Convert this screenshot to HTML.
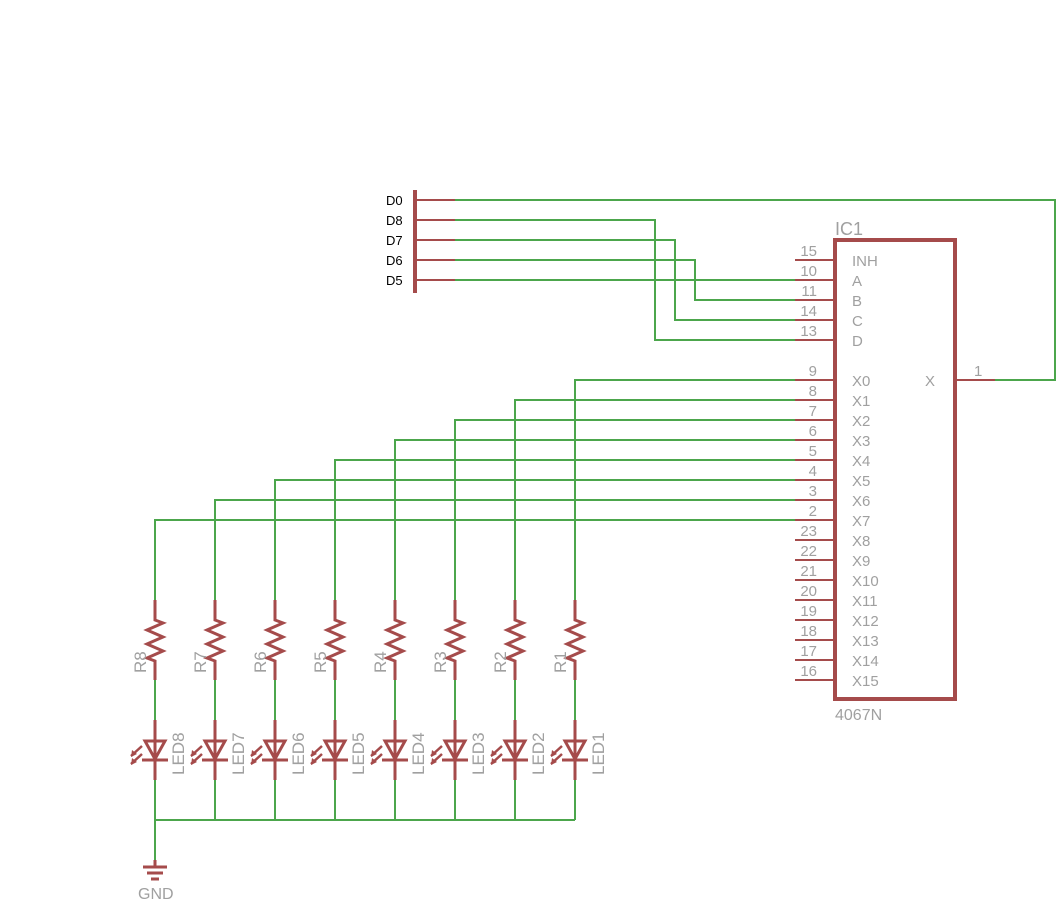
<!DOCTYPE html>
<html><head><style>body{margin:0;background:#fff}svg{display:block}</style></head><body>
<svg width="1057" height="906" xmlns="http://www.w3.org/2000/svg" xmlns:xlink="http://www.w3.org/1999/xlink" font-family="Liberation Sans, sans-serif">
<defs>
<g id="col">
<line x1="0" y1="680" x2="0" y2="720" stroke="#4ca64c" stroke-width="2"/>
<line x1="0" y1="780" x2="0" y2="820" stroke="#4ca64c" stroke-width="2"/>
<polyline points="0,600 0,620 8,623 -8,630 8,637 -8,644 8,651 -8,658 0,661 0,680" fill="none" stroke="#a54b4b" stroke-width="3"/>
<line x1="0" y1="720" x2="0" y2="780" stroke="#a54b4b" stroke-width="3"/>
<polygon points="-10,741 10,741 0,759" fill="none" stroke="#a54b4b" stroke-width="3"/>
<line x1="-13" y1="760" x2="13" y2="760" stroke="#a54b4b" stroke-width="3"/>
<line x1="-13" y1="746" x2="-24" y2="756" stroke="#a54b4b" stroke-width="2.5"/>
<polygon points="-24,757 -23,750 -18,754" fill="#a54b4b"/>
<line x1="-13" y1="754" x2="-24" y2="764" stroke="#a54b4b" stroke-width="2.5"/>
<polygon points="-24,765 -23,758 -18,762" fill="#a54b4b"/>
</g>
</defs>
<g stroke="#4ca64c" stroke-width="2" fill="none">
<polyline points="455,200 1055,200 1055,380 995,380"/>
<polyline points="455,220 655,220 655,340 795,340"/>
<polyline points="455,240 675,240 675,320 795,320"/>
<polyline points="455,260 695,260 695,300 795,300"/>
<polyline points="455,280 795,280"/>
<polyline points="795,380 575,380 575,600"/>
<polyline points="795,400 515,400 515,600"/>
<polyline points="795,420 455,420 455,600"/>
<polyline points="795,440 395,440 395,600"/>
<polyline points="795,460 335,460 335,600"/>
<polyline points="795,480 275,480 275,600"/>
<polyline points="795,500 215,500 215,600"/>
<polyline points="795,520 155,520 155,600"/>
<line x1="155" y1="820" x2="575" y2="820"/>
<line x1="155" y1="820" x2="155" y2="860"/>
</g>
<use xlink:href="#col" href="#col" x="575"/>
<use xlink:href="#col" href="#col" x="515"/>
<use xlink:href="#col" href="#col" x="455"/>
<use xlink:href="#col" href="#col" x="395"/>
<use xlink:href="#col" href="#col" x="335"/>
<use xlink:href="#col" href="#col" x="275"/>
<use xlink:href="#col" href="#col" x="215"/>
<use xlink:href="#col" href="#col" x="155"/>
<g stroke="#a54b4b" stroke-width="3" fill="none">
<line x1="415" y1="190" x2="415" y2="293" stroke-width="4"/>
<line x1="415" y1="200" x2="455" y2="200" stroke-width="2"/>
<line x1="415" y1="220" x2="455" y2="220" stroke-width="2"/>
<line x1="415" y1="240" x2="455" y2="240" stroke-width="2"/>
<line x1="415" y1="260" x2="455" y2="260" stroke-width="2"/>
<line x1="415" y1="280" x2="455" y2="280" stroke-width="2"/>
<rect x="835" y="240" width="120" height="459" stroke-width="4"/>
<line x1="955" y1="380" x2="995" y2="380" stroke-width="2"/>
<line x1="155" y1="860" x2="155" y2="866"/>
<line x1="143" y1="867" x2="167" y2="867"/>
<line x1="147" y1="873" x2="163" y2="873"/>
<line x1="151" y1="879" x2="159" y2="879"/>
</g>
<g stroke="#a54b4b" stroke-width="2">
<line x1="795" y1="260" x2="835" y2="260"/><line x1="795" y1="280" x2="835" y2="280"/>
<line x1="795" y1="300" x2="835" y2="300"/><line x1="795" y1="320" x2="835" y2="320"/>
<line x1="795" y1="340" x2="835" y2="340"/>
<line x1="795" y1="380" x2="835" y2="380"/><line x1="795" y1="400" x2="835" y2="400"/>
<line x1="795" y1="420" x2="835" y2="420"/><line x1="795" y1="440" x2="835" y2="440"/>
<line x1="795" y1="460" x2="835" y2="460"/><line x1="795" y1="480" x2="835" y2="480"/>
<line x1="795" y1="500" x2="835" y2="500"/><line x1="795" y1="520" x2="835" y2="520"/>
<line x1="795" y1="540" x2="835" y2="540"/><line x1="795" y1="560" x2="835" y2="560"/>
<line x1="795" y1="580" x2="835" y2="580"/><line x1="795" y1="600" x2="835" y2="600"/>
<line x1="795" y1="620" x2="835" y2="620"/><line x1="795" y1="640" x2="835" y2="640"/>
<line x1="795" y1="660" x2="835" y2="660"/><line x1="795" y1="680" x2="835" y2="680"/>
</g>
<g fill="#a0a0a0" font-size="15">
<text x="835" y="235" font-size="18">IC1</text>
<text x="835" y="720" font-size="16">4067N</text>
<text x="974" y="376">1</text>
<text x="925" y="386">X</text>
<text x="138" y="899" font-size="16">GND</text>
<g text-anchor="end">
<text x="817" y="256">15</text><text x="817" y="276">10</text><text x="817" y="296">11</text><text x="817" y="316">14</text><text x="817" y="336">13</text>
<text x="817" y="376">9</text><text x="817" y="396">8</text><text x="817" y="416">7</text><text x="817" y="436">6</text><text x="817" y="456">5</text><text x="817" y="476">4</text><text x="817" y="496">3</text><text x="817" y="516">2</text>
<text x="817" y="536">23</text><text x="817" y="556">22</text><text x="817" y="576">21</text><text x="817" y="596">20</text><text x="817" y="616">19</text><text x="817" y="636">18</text><text x="817" y="656">17</text><text x="817" y="676">16</text>
</g>
<text x="852" y="266">INH</text><text x="852" y="286">A</text><text x="852" y="306">B</text><text x="852" y="326">C</text><text x="852" y="346">D</text>
<text x="852" y="386">X0</text><text x="852" y="406">X1</text><text x="852" y="426">X2</text><text x="852" y="446">X3</text><text x="852" y="466">X4</text><text x="852" y="486">X5</text><text x="852" y="506">X6</text><text x="852" y="526">X7</text>
<text x="852" y="546">X8</text><text x="852" y="566">X9</text><text x="852" y="586">X10</text><text x="852" y="606">X11</text><text x="852" y="626">X12</text><text x="852" y="646">X13</text><text x="852" y="666">X14</text><text x="852" y="686">X15</text>
<g font-size="17">
<text transform="translate(566,673) rotate(-90)">R1</text>
<text transform="translate(506,673) rotate(-90)">R2</text>
<text transform="translate(446,673) rotate(-90)">R3</text>
<text transform="translate(386,673) rotate(-90)">R4</text>
<text transform="translate(326,673) rotate(-90)">R5</text>
<text transform="translate(266,673) rotate(-90)">R6</text>
<text transform="translate(206,673) rotate(-90)">R7</text>
<text transform="translate(146,673) rotate(-90)">R8</text>
<text transform="translate(604,775) rotate(-90)">LED1</text>
<text transform="translate(544,775) rotate(-90)">LED2</text>
<text transform="translate(484,775) rotate(-90)">LED3</text>
<text transform="translate(424,775) rotate(-90)">LED4</text>
<text transform="translate(364,775) rotate(-90)">LED5</text>
<text transform="translate(304,775) rotate(-90)">LED6</text>
<text transform="translate(244,775) rotate(-90)">LED7</text>
<text transform="translate(184,775) rotate(-90)">LED8</text>
</g>
</g>
<g font-size="13" fill="#000">
<text x="386" y="205">D0</text><text x="386" y="225">D8</text><text x="386" y="245">D7</text><text x="386" y="265">D6</text><text x="386" y="285">D5</text>
</g>
</svg>
</body></html>
